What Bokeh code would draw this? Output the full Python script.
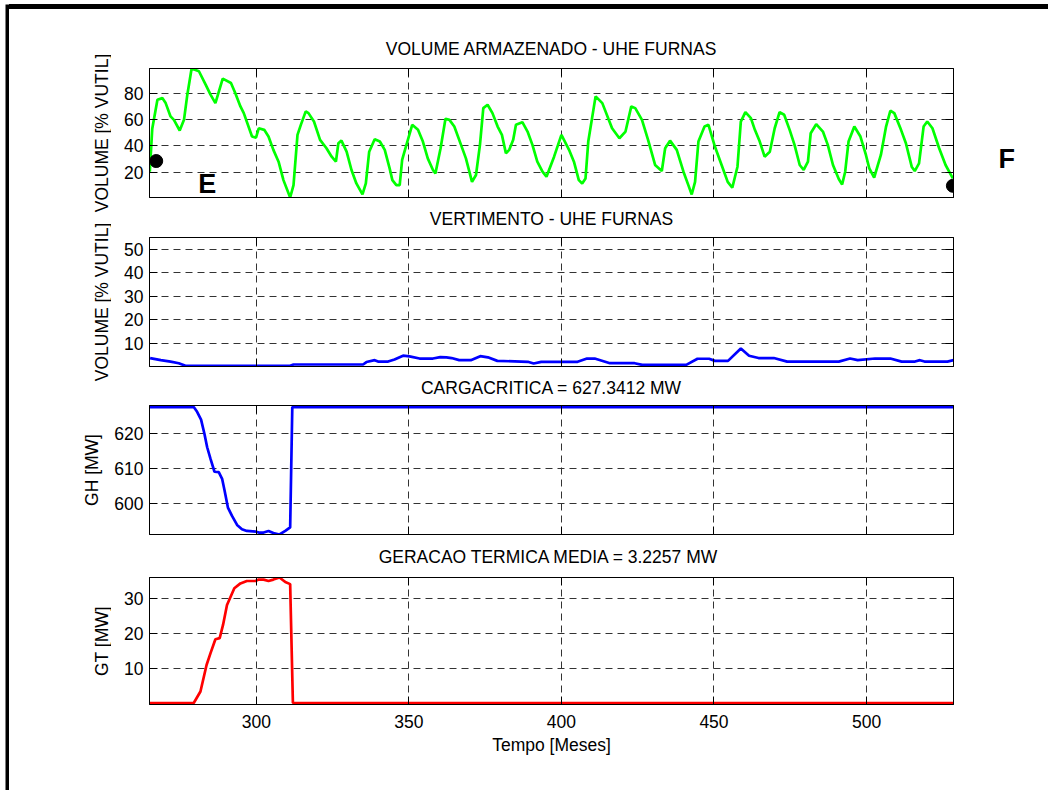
import math
from bokeh.plotting import figure
from bokeh.layouts import column, row
from bokeh.models import (Range1d, FixedTicker, LinearAxis, Label, Grid, Spacer,
                          CustomJSTickFormatter)
from bokeh.core.properties import value
from bokeh.embed import file_html
from bokeh.resources import INLINE

# ---------------- data ----------------
x_start, x_end = 265.0, 528.5
x_ticks = [300, 350, 400, 450, 500]

vol_month = [265.1, 265.9, 267.6, 269.2, 270.3, 271.9, 273.0, 274.9, 276.3, 277.4, 278.8,
             281.2, 283.4, 285.0, 286.6, 289.0, 291.7, 293.1, 294.8, 295.9, 298.6, 299.9,
             300.8, 302.6, 304.0, 305.6, 307.3, 308.9, 311.1, 312.2, 313.5, 314.6, 316.2,
             317.1, 318.9, 320.9, 323.0, 324.7, 326.1, 326.9, 327.9, 329.6, 331.2, 332.8,
             334.8, 335.9, 337.0, 338.8, 340.5, 342.1, 343.7, 344.6, 345.9, 347.0, 347.8,
             349.2, 351.1, 353.0, 354.6, 356.2, 357.9, 358.7, 360.4, 362.0, 363.3, 364.9,
             367.1, 368.7, 370.7, 372.0, 373.3, 374.4, 375.8, 377.4, 379.1, 380.5, 381.8,
             382.9, 384.2, 385.1, 387.2, 388.9, 390.5, 392.1, 393.8, 395.1, 397.6, 400.0,
             402.5, 404.1, 405.7, 406.8, 407.9, 408.8, 411.2, 413.4, 416.6, 419.0, 421.0,
             422.9, 424.2, 426.4, 428.4, 430.7, 432.9, 434.0, 435.6, 437.8, 440.0, 441.6,
             442.7, 443.8, 444.9, 446.9, 448.2, 450.3, 452.5, 454.5, 456.0, 457.7, 458.8,
             460.3, 462.1, 463.4, 465.0, 466.6, 468.3, 469.9, 471.5, 473.0, 474.8, 476.4,
             478.1, 479.4, 480.8, 481.7, 483.5, 485.7, 487.3, 489.0, 490.9, 492.0, 493.0,
             494.1, 496.0, 498.0, 499.8, 500.9, 502.5, 504.7, 506.4, 507.8, 509.1, 511.3,
             512.9, 514.8, 515.8, 517.2, 518.7, 519.9, 521.6, 523.8, 525.9, 528.3]
vol_pct = [20.4, 53.0, 75.0, 76.3, 72.5, 62.4, 59.8, 51.7, 59.8, 78.9, 98.8,
           96.7, 86.6, 78.9, 72.5, 91.1, 87.8, 80.2, 70.0, 64.9, 47.1, 46.3,
           53.4, 52.2, 47.1, 37.0, 28.0, 14.0, 0.8, 10.2, 48.4, 56.0, 66.2,
           64.9, 58.5, 44.6, 38.2, 31.8, 28.0, 42.0, 44.0, 35.6, 21.7, 11.5,
           3.1, 11.5, 35.6, 45.0, 43.3, 37.0, 22.9, 14.0, 10.2, 10.2, 29.3,
           40.8, 56.0, 52.2, 43.3, 30.5, 21.7, 19.1, 38.2, 60.6, 59.8, 54.7,
           40.8, 30.5, 12.7, 17.9, 40.8, 68.7, 71.3, 64.9, 54.7, 48.4, 34.4,
           37.0, 44.6, 56.0, 58.0, 50.9, 40.8, 28.0, 20.4, 16.6, 31.8, 48.4,
           37.0, 28.0, 14.0, 11.5, 15.3, 43.3, 77.6, 72.5, 53.4, 45.8, 50.9,
           70.0, 68.7, 59.8, 44.6, 25.5, 20.9, 38.2, 44.0, 37.0, 20.4, 10.2,
           3.1, 12.7, 43.3, 54.7, 56.0, 39.5, 25.5, 12.7, 8.2, 24.2, 58.5,
           65.6, 61.1, 52.2, 43.3, 31.8, 35.6, 53.4, 65.6, 63.7, 52.2, 40.8,
           25.5, 21.7, 28.0, 49.6, 56.5, 50.9, 40.8, 25.5, 14.8, 10.7, 20.4,
           43.3, 54.7, 47.1, 33.1, 22.9, 16.0, 33.1, 54.7, 66.7, 64.9, 52.2,
           42.0, 24.2, 20.9, 26.7, 54.7, 58.5, 53.4, 38.2, 25.5, 15.3]
vol_ticks = [20, 40, 60, 80]

# markers E (start) and F (end)
mark_month = [267.2, 528.3]
mark_pct = [28.5, 9.7]
mark_text = ["E", "F"]

spill_month = [265.2, 268.7, 271.9, 274.6, 276.8, 311.1, 312.2, 335.0, 336.1, 338.8, 339.9,
               343.2, 345.3, 348.1, 350.2, 353.5, 357.9, 360.3, 362.3, 364.0, 366.5, 370.3,
               373.4, 375.9, 379.0, 389.0, 390.9, 393.4, 405.3, 408.4, 410.9, 415.9, 424.0,
               426.5, 440.9, 444.6, 448.4, 450.3, 454.6, 458.8, 461.5, 464.6, 469.6, 474.0,
               490.9, 494.6, 497.1, 502.8, 507.8, 511.5, 515.9, 517.5, 519.0, 526.5, 528.5]
spill_pct = [3.6, 2.7, 2.1, 1.4, 0.3, 0.3, 0.85, 0.85, 1.9, 2.7, 2.1,
             2.1, 3.0, 4.6, 4.3, 3.4, 3.4, 4.0, 3.9, 3.6, 2.7, 2.7,
             4.4, 3.9, 2.4, 2.0, 1.3, 2.0, 2.0, 3.4, 3.4, 1.4, 1.4,
             0.7, 0.7, 3.3, 3.3, 2.4, 2.4, 7.7, 4.6, 3.6, 3.6, 2.1,
             2.1, 3.4, 2.7, 3.4, 3.4, 2.1, 2.1, 2.7, 2.1, 2.1, 2.7]
spill_ticks = [10, 20, 30, 40, 50]
spill_max = 55.0

carga_critica = 627.3412
gh_month = [265.0, 279.5, 280.6, 281.9, 283.0, 283.9, 285.0, 286.3, 287.7, 288.8, 289.6,
            290.7, 292.0, 293.7, 295.3, 296.9, 300.0, 300.8, 302.4, 304.0, 305.6, 307.6,
            309.5, 311.1, 311.8, 528.5]
gh_mw = [627.34, 627.34, 626.0, 623.8, 619.8, 616.0, 612.7, 609.1, 609.0, 607.1, 603.8,
         599.0, 596.7, 594.1, 592.9, 592.4, 592.2, 591.95, 591.95, 592.4, 591.8, 591.4,
         592.4, 593.4, 627.34, 627.34]
gh_ticks = [600, 610, 620]

gt_media = 3.2257
gt_month = [265.0, 279.5, 281.7, 283.7, 285.0, 286.6, 288.0, 289.1, 290.4, 292.8, 294.8,
            296.9, 299.7, 300.8, 302.4, 304.0, 305.6, 307.6, 309.5, 311.1, 312.0, 528.5]
gt_mw = [0.0, 0.0, 3.3, 10.9, 14.3, 18.3, 18.6, 22.4, 28.1, 32.9, 34.3,
         35.0, 35.0, 35.4, 35.4, 35.0, 35.4, 36.0, 34.7, 34.1, 0.0, 0.0]
gt_ticks = [10, 20, 30]

titles = ["VOLUME ARMAZENADO - UHE FURNAS",
          "VERTIMENTO - UHE FURNAS",
          "CARGACRITICA = %.4f MW" % carga_critica,
          "GERACAO TERMICA MEDIA  = %.4f MW" % gt_media]
ylabels = ["VOLUME [% VUTIL]", "VOLUME [% VUTIL]", "GH [MW]", "GT [MW]"]
xlabel = "Tempo [Meses]"

# ---------------- styling / layout ----------------
FONT = "Liberation Sans"
FS = "17.5px"
PAGE_W, PAGE_H = 1048, 790
TOP = 9                      # black top rule ends here
LAB_W = 102                  # strip holding the y-axis titles
PANEL_W = 852
RIGHT_W = PAGE_W - 9 - LAB_W - PANEL_W
LB, RB = 35, 10              # -> frame from x=146 to x=953
EDGE_PAD = 0.012             # small pad so lines lying on a limit stay visible

# (canvas height, top border, bottom border, title standoff) of each panel
panel_geom = [(192, 59, 4, 16), (170, 36, 5, 13), (166, 34, 3, 11), (253, 40, 86, 17)]
# horizontal centre of each y-axis title on the page
ylabel_x = [101.5, 101.5, 91.5, 101.5]


def style_axis(ax, labels):
    ax.major_tick_in = 8
    ax.major_tick_out = 0
    ax.minor_tick_in = 0
    ax.minor_tick_out = 0
    ax.axis_line_color = "black"
    ax.major_tick_line_color = "black"
    ax.major_label_text_font = FONT
    ax.major_label_text_color = "black"
    ax.axis_label_text_font = FONT
    ax.axis_label_text_font_size = FS
    ax.axis_label_text_font_style = "normal"
    ax.axis_label_text_color = "black"
    if labels:
        ax.major_label_text_font_size = FS
        ax.major_label_standoff = 6
    else:
        ax.formatter = CustomJSTickFormatter(code="return ''")
        ax.major_label_text_font_size = "1px"
        ax.major_label_standoff = 0


def padded(lo, hi, pad_lo=False, pad_hi=False):
    span = hi - lo
    return Range1d(lo - (span * EDGE_PAD if pad_lo else 0),
                   hi + (span * EDGE_PAD if pad_hi else 0))


def panel(geom, title, yr, yticks, show_x):
    height, top, bottom, standoff = geom
    p = figure(width=PANEL_W, height=height, output_backend="svg", toolbar_location=None,
               x_range=Range1d(x_start, x_end), y_range=yr,
               x_axis_type=None, y_axis_type=None,
               min_border_left=LB, min_border_right=RB,
               min_border_top=top, min_border_bottom=bottom,
               background_fill_color="white", border_fill_color="white")
    p.outline_line_color = "black"
    p.outline_line_width = 1
    p.title.text = title
    p.title.align = "center"
    p.title.vertical_align = "top"
    p.title.text_font = FONT
    p.title.text_font_size = FS
    p.title.text_font_style = "normal"
    p.title.text_color = "black"
    p.title.standoff = standoff

    xt = FixedTicker(ticks=x_ticks, minor_ticks=[])
    yt = FixedTicker(ticks=yticks, minor_ticks=[])

    bx = LinearAxis(ticker=xt)
    style_axis(bx, show_x)
    if show_x:
        bx.axis_label = xlabel
        bx.major_label_standoff = 10
        bx.axis_label_standoff = 4
    p.add_layout(bx, "below")
    tx = LinearAxis(ticker=xt)
    style_axis(tx, False)
    p.add_layout(tx, "above")

    ly = LinearAxis(ticker=yt)
    style_axis(ly, True)
    p.add_layout(ly, "left")
    ry = LinearAxis(ticker=yt)
    style_axis(ry, False)
    p.add_layout(ry, "right")

    for dim, tk in ((0, xt), (1, yt)):
        g = Grid(dimension=dim, ticker=tk)
        g.grid_line_color = "#333333"
        g.grid_line_dash = "7 5"
        g.grid_line_width = 1
        p.add_layout(g)
    return p


def plain(w, h, xr, yr, fill="white"):
    f = figure(width=w, height=h, output_backend="svg", toolbar_location=None, title=None,
               x_axis_type=None, y_axis_type=None, min_border=0,
               x_range=xr, y_range=yr,
               background_fill_color=fill, border_fill_color=fill)
    f.outline_line_color = None
    return f


p1 = panel(panel_geom[0], titles[0], Range1d(min(vol_pct), max(vol_pct)), vol_ticks, False)
p1.line(vol_month, vol_pct, line_color="#00ff00", line_width=2.7)
p1.scatter(mark_month, mark_pct, size=13, color="black")
p1.add_layout(Label(x=mark_month[0], y=mark_pct[0], text=mark_text[0],
                    x_offset=42, y_offset=-23,
                    text_font=FONT, text_font_size="27px", text_font_style="bold",
                    text_color="black", text_align="left", text_baseline="middle"))

p2 = panel(panel_geom[1], titles[1], Range1d(0, spill_max), spill_ticks, False)
p2.line(spill_month, spill_pct, line_color="#0000ff", line_width=2.7)

p3 = panel(panel_geom[2], titles[2], padded(min(gh_mw), carga_critica, pad_hi=True),
           gh_ticks, False)
p3.line(gh_month, gh_mw, line_color="#0000ff", line_width=2.7)

p4 = panel(panel_geom[3], titles[3], padded(0, max(gt_mw), pad_lo=True), gt_ticks, True)
p4.line(gt_month, gt_mw, line_color="#ff0000", line_width=2.7)

# y-axis titles, drawn in their own strip (page pixel coordinates)
lab = plain(LAB_W, PAGE_H - TOP, Range1d(9, 9 + LAB_W), Range1d(PAGE_H, TOP))
frame_mid = []
yy = TOP
for h, t, b, s in panel_geom:
    frame_mid.append(yy + t + (h - t - b) / 2.0)
    yy += h
lab.text(x=ylabel_x, y=frame_mid, text=ylabels, angle=math.pi / 2,
         text_align="center", text_baseline="middle",
         text_font=value(FONT), text_font_size=value(FS), text_color="black")

# right strip with the "F" tag next to the end marker
rgt = plain(RIGHT_W, PAGE_H - TOP, Range1d(PAGE_W - RIGHT_W, PAGE_W), Range1d(PAGE_H, TOP))
rgt.text(x=[998], y=[158], text=[mark_text[1]], text_align="left", text_baseline="middle",
         text_font=value(FONT), text_font_size=value("27px"), text_font_style="bold",
         text_color="black")

black_left = plain(4, PAGE_H - 4, Range1d(0, 1), Range1d(0, 1), fill="black")
black_top = Spacer(width=PAGE_W - 9, height=5, styles={"background-color": "black"})

body = row(lab, column(p1, p2, p3, p4, spacing=0), rgt, spacing=0)
right = column(Spacer(width=PAGE_W - 9, height=4), black_top, body, spacing=0)
left = column(Spacer(width=4, height=4), black_left, spacing=0)
layout = row(Spacer(width=5, height=PAGE_H), left, right, spacing=0)

open("out.html", "w").write(file_html(layout, INLINE))
